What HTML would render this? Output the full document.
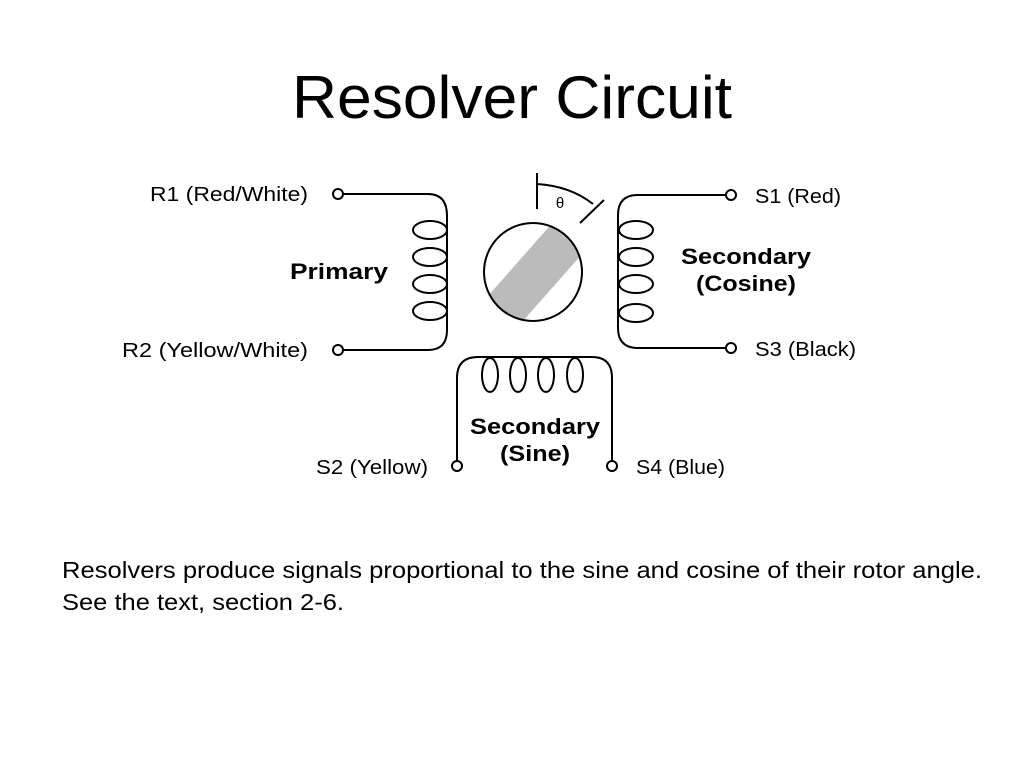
<!DOCTYPE html>
<html><head><style>
body{margin:0;background:#fff;width:1024px;height:768px;overflow:hidden;font-family:"Liberation Sans",sans-serif}
</style></head><body>
<svg width="1024" height="768" viewBox="0 0 1024 768" xmlns="http://www.w3.org/2000/svg">
<text x="512" y="118" font-size="60" text-anchor="middle" textLength="440" lengthAdjust="spacingAndGlyphs" font-family="Liberation Sans">Resolver Circuit</text>
<g fill="none" stroke="#000" stroke-width="2">
<circle cx="338" cy="194" r="5"/>
<circle cx="338" cy="350" r="5"/>
<path d="M343 194 H428 Q447 194 447 216 V330 Q447 350 428 350 H343"/>
<ellipse cx="430" cy="230" rx="17" ry="9"/>
<ellipse cx="430" cy="257" rx="17" ry="9"/>
<ellipse cx="430" cy="284" rx="17" ry="9"/>
<ellipse cx="430" cy="311" rx="17" ry="9"/>
<circle cx="731" cy="195" r="5"/>
<circle cx="731" cy="348" r="5"/>
<path d="M726 195 H638 Q618 195 618 215 V328 Q618 348 638 348 H726"/>
<ellipse cx="636" cy="230" rx="17" ry="9"/>
<ellipse cx="636" cy="257" rx="17" ry="9"/>
<ellipse cx="636" cy="284" rx="17" ry="9"/>
<ellipse cx="636" cy="313" rx="17" ry="9"/>
<circle cx="457" cy="466" r="5"/>
<circle cx="612" cy="466" r="5"/>
<path d="M457 461 V378 Q457 357 478 357 H592 Q612 357 612 378 V461"/>
<ellipse cx="490" cy="375" rx="8" ry="17"/>
<ellipse cx="518" cy="375" rx="8" ry="17"/>
<ellipse cx="546" cy="375" rx="8" ry="17"/>
<ellipse cx="575" cy="375" rx="8" ry="17"/>
<path d="M537 173 V209"/>
<path d="M537 184 Q570 186 593 204"/>
<path d="M580 223 L604 200"/>
</g>
<clipPath id="c"><circle cx="533" cy="272" r="49"/></clipPath>
<polygon clip-path="url(#c)" points="480,305 555,220 590,245 515,330" fill="#bbb"/>
<circle cx="533" cy="272" r="49" fill="none" stroke="#000" stroke-width="2"/>
<text x="560" y="208" font-size="15" text-anchor="middle">θ</text>
<g font-size="20" font-family="Liberation Sans" lengthAdjust="spacingAndGlyphs">
<text x="150" y="201" textLength="158" lengthAdjust="spacingAndGlyphs">R1 (Red/White)</text>
<text x="122" y="357" textLength="186" lengthAdjust="spacingAndGlyphs">R2 (Yellow/White)</text>
<text x="755" y="203" textLength="86" lengthAdjust="spacingAndGlyphs">S1 (Red)</text>
<text x="755" y="356" textLength="101" lengthAdjust="spacingAndGlyphs">S3 (Black)</text>
<text x="316" y="474" textLength="112" lengthAdjust="spacingAndGlyphs">S2 (Yellow)</text>
<text x="636" y="474" textLength="89" lengthAdjust="spacingAndGlyphs">S4 (Blue)</text>
</g>
<g font-size="22" font-weight="bold">
<text x="290" y="279" textLength="98" lengthAdjust="spacingAndGlyphs">Primary</text>
<text x="681" y="264" textLength="130" lengthAdjust="spacingAndGlyphs">Secondary</text>
<text x="696" y="291" textLength="100" lengthAdjust="spacingAndGlyphs">(Cosine)</text>
<text x="470" y="434" textLength="130" lengthAdjust="spacingAndGlyphs">Secondary</text>
<text x="500" y="461" textLength="70" lengthAdjust="spacingAndGlyphs">(Sine)</text>
</g>
<g font-size="23">
<text x="62" y="578" textLength="920" lengthAdjust="spacingAndGlyphs">Resolvers produce signals proportional to the sine and cosine of their rotor angle.</text>
<text x="62" y="610" textLength="282" lengthAdjust="spacingAndGlyphs">See the text, section 2-6.</text>
</g>
</svg>
</body></html>
